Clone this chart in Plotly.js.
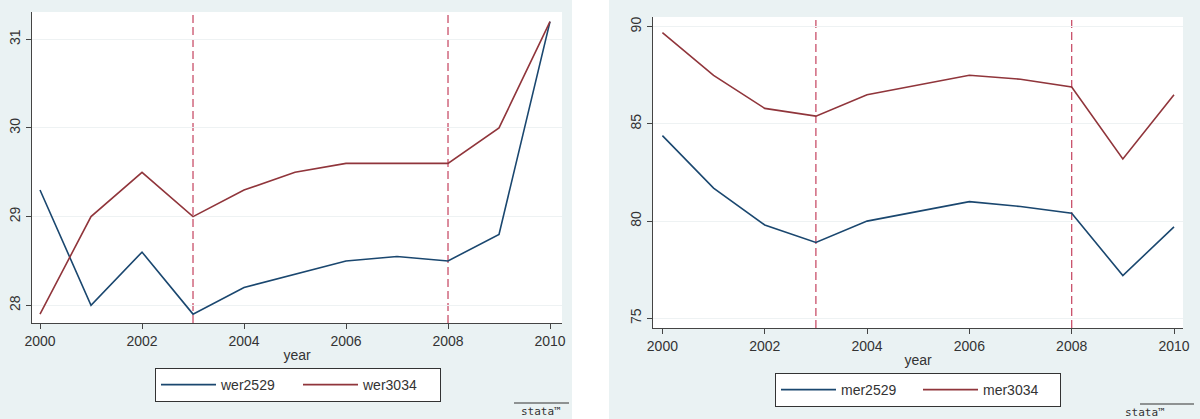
<!DOCTYPE html>
<html><head><meta charset="utf-8">
<script src="https://cdn.plot.ly/plotly-3.0.1.min.js"></script>
<style>html,body{margin:0;padding:0;background:#fff;}</style>
</head><body><div id="chart" style="width:1200px;height:419px;"></div>
<script>
// ---- data ----
const years = [2000, 2001, 2002, 2003, 2004, 2005, 2006, 2007, 2008, 2009, 2010];
const wer2529 = [29.3, 28.0, 28.6, 27.9, 28.2, 28.35, 28.5, 28.55, 28.5, 28.8, 31.2];
const wer3034 = [27.9, 29.0, 29.5, 29.0, 29.3, 29.5, 29.6, 29.6, 29.6, 30.0, 31.2];
const mer2529 = [84.4, 81.7, 79.8, 78.9, 80.0, 80.5, 81.0, 80.75, 80.4, 77.2, 79.7];
const mer3034 = [89.7, 87.5, 85.8, 85.4, 86.5, 87.0, 87.5, 87.3, 86.9, 83.2, 86.5];
const breakYears = [2003, 2008];
const xTicks = [2000, 2002, 2004, 2006, 2008, 2010];
const werTicks = [28, 29, 30, 31];
const merTicks = [75, 80, 85, 90];
const xTitle = 'year';
const logoText = 'stata\u2122';

// ---- style ----
const FONT = 'Liberation Sans, Arial, sans-serif';
const BLUE = '#1a476f';
const RED = '#90353b';
const BG = '#eaf2f3';
const DASH = '#c9506a';
const TXT = '#333333';
const W = 1200, H = 419;
const px = v => v / W;
const py = v => 1 - v / H;

function line(x, y, name, color, xa, ya, leg) {
  return {x: x, y: y, name: name, type: 'scatter', mode: 'lines',
    line: {color: color, width: 1.6}, xaxis: xa, yaxis: ya, legend: leg,
    hoverinfo: 'x+y+name'};
}

const data = [
  line(years, wer2529, 'wer2529', BLUE, 'x', 'y', 'legend'),
  line(years, wer3034, 'wer3034', RED, 'x', 'y', 'legend'),
  line(years, mer2529, 'mer2529', BLUE, 'x2', 'y2', 'legend2'),
  line(years, mer3034, 'mer3034', RED, 'x2', 'y2', 'legend2')
];

function xax(domain, range, anchor) {
  return {domain: domain, range: range, anchor: anchor, tickvals: xTicks,
    ticks: 'outside', ticklen: 5, tickcolor: '#444', showline: true,
    linecolor: '#444', linewidth: 1, showgrid: false, zeroline: false,
    tickfont: {family: FONT, size: 14, color: TXT},
    title: {text: xTitle, font: {family: FONT, size: 14, color: TXT}, standoff: 2}};
}
function yax(domain, range, ticks, anchor) {
  return {domain: domain, range: range, anchor: anchor, tickvals: ticks,
    ticks: 'outside', ticklen: 5, tickcolor: '#444', showline: true,
    linecolor: '#444', linewidth: 1, showgrid: true, gridcolor: '#eef2f3',
    gridwidth: 1, zeroline: false, tickangle: -90,
    tickfont: {family: FONT, size: 14, color: TXT}};
}

const shapes = [
  // white gap between the two panels
  {type: 'rect', xref: 'paper', yref: 'paper', x0: px(572), x1: px(609), y0: 0, y1: 1,
   fillcolor: '#ffffff', line: {width: 0}, layer: 'below'},
  // logo overlines
  {type: 'line', xref: 'paper', yref: 'paper', x0: px(514), x1: px(569), y0: py(403), y1: py(403),
   line: {color: '#333', width: 1.2}},
  {type: 'line', xref: 'paper', yref: 'paper', x0: px(1140), x1: px(1194), y0: py(404), y1: py(404),
   line: {color: '#333', width: 1.2}}
];
breakYears.forEach(b => {
  shapes.push({type: 'line', xref: 'x', yref: 'y domain', x0: b, x1: b, y0: 0, y1: 1,
    line: {color: DASH, width: 1.3, dash: '8px,4px'}, layer: 'below'});
  shapes.push({type: 'line', xref: 'x2', yref: 'y2 domain', x0: b, x1: b, y0: 0, y1: 1,
    line: {color: DASH, width: 1.3, dash: '8px,4px'}, layer: 'below'});
});

const legendBase = {orientation: 'h', xanchor: 'left', yanchor: 'top', bgcolor: '#ffffff',
  bordercolor: '#333', borderwidth: 1, font: {family: FONT, size: 14, color: TXT},
  itemwidth: 55, entrywidth: 72, itemclick: false, itemdoubleclick: false};

const layout = {
  width: W, height: H,
  margin: {l: 0, r: 0, t: 0, b: 0},
  paper_bgcolor: BG, plot_bgcolor: '#ffffff',
  showlegend: true,
  xaxis: xax([px(32), px(562)], [1999.843, 2010.235], 'y'),
  yaxis: yax([py(323), py(12)], [27.80, 31.308], werTicks, 'x'),
  xaxis2: xax([px(653), px(1183)], [1999.816, 2010.176], 'y2'),
  yaxis2: yax([py(328), py(17)], [74.5, 90.5], merTicks, 'x2'),
  legend: Object.assign({}, legendBase, {x: px(155), y: py(368)}),
  legend2: Object.assign({}, legendBase, {x: px(775), y: py(373)}),
  shapes: shapes,
  annotations: [
    {xref: 'paper', yref: 'paper', x: px(541), y: py(403), yanchor: 'top', text: logoText, showarrow: false,
     font: {family: 'DejaVu Sans Mono, monospace', size: 11, color: '#333'}},
    {xref: 'paper', yref: 'paper', x: px(1167), y: py(404), yanchor: 'top', text: logoText, showarrow: false,
     font: {family: 'DejaVu Sans Mono, monospace', size: 11, color: '#333'}}
  ]
};

Plotly.newPlot('chart', data, layout, {displayModeBar: false, staticPlot: true});
</script>
</body></html>
